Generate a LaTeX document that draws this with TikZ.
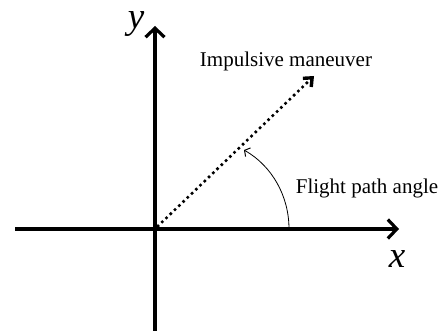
\documentclass[tikz,border=0pt]{standalone}
\usepackage{fontspec}
\setmainfont{Liberation Serif}
\usetikzlibrary{arrows.meta}
\tikzset{
  axis/.style={line width=3.2pt, -{Straight Barb[length=9pt,width=19pt,line width=3.2pt]}},
  dotline/.style={line width=3.6pt, line cap=round, dash pattern=on 0pt off 5.9pt, -{Straight Barb[length=7pt,width=12pt,line width=3.4pt,line cap=butt]}},
  anglearc/.style={line width=0.8pt, -{Straight Barb[length=4pt,width=10pt,line width=1pt]}},
  lbl/.style={font=\fontsize{21}{24}\selectfont, inner sep=0pt},
  axlbl/.style={font=\fontsize{37}{40}\selectfont\itshape, inner sep=0pt}
}
\begin{document}
\begin{tikzpicture}[x=1pt,y=-1pt]
\useasboundingbox (0,0) rectangle (438,331);
\coordinate (O) at (155,229);
\coordinate (xl) at (15,229);
\coordinate (xr) at (399,229);
\coordinate (yb) at (155,331);
\coordinate (yt) at (155,26);
\draw[axis] (xl) -- (xr);
\draw[axis] (yb) -- (yt);
\coordinate (ds) at (158,226);
\coordinate (de) at (314,76);
\draw[dotline] (ds) -- (de);
\coordinate (as) at (289,229);
\coordinate (ae) at (244,150);
\draw[anglearc] (as) .. controls (289,196) and (272,166) .. (ae);
\node[lbl] (imp) at (286,61) {Impulsive maneuver};
\node[lbl] (fpa) at (367,188) {Flight path angle};
\node[axlbl] (ylab) at (136,24) {y};
\node[axlbl] (xlab) at (397,259) {x};
\end{tikzpicture}
\end{document}
